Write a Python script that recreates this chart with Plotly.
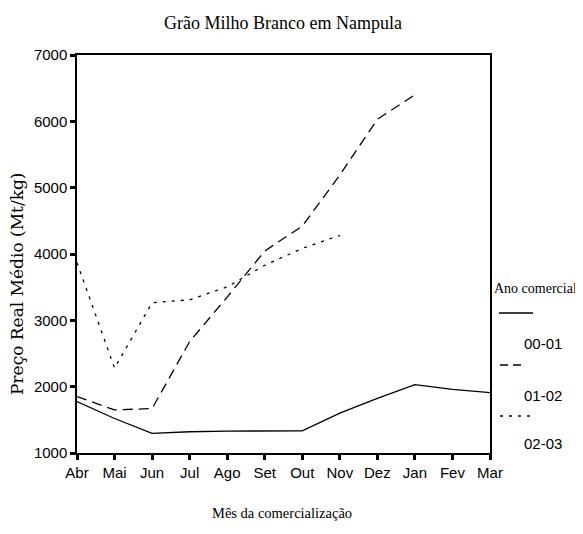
import plotly.graph_objects as go

months = ["Abr", "Mai", "Jun", "Jul", "Ago", "Set", "Out", "Nov", "Dez", "Jan", "Fev", "Mar"]
s_00_01 = [1775, 1520, 1295, 1320, 1330, 1335, 1335, 1600, 1825, 2030, 1960, 1910]
s_01_02 = [1850, 1650, 1670, 2680, 3350, 4045, 4420, 5190, 6030, 6400]
s_02_03 = [3870, 2280, 3265, 3310, 3505, 3830, 4085, 4280]
series_names = ["00-01", "01-02", "02-03"]
y_ticks = [1000, 2000, 3000, 4000, 5000, 6000, 7000]

# page body has an 8px margin: shrink figure and shift all coordinates
OFF = 8
W, H = 583 - OFF, 534 - OFF
L, R, T, B = 77 - OFF, 490 - OFF, 55 - OFF, 453 - OFF


def px(x):
    return (x - OFF - L) / (R - L)


def py(y):
    return (B - (y - OFF)) / (B - T)


fig = go.Figure()
styles = ["solid", "10px,6px", "3px,6px"]
for name, vals, dash in zip(series_names, [s_00_01, s_01_02, s_02_03], styles):
    fig.add_trace(go.Scatter(
        x=months[:len(vals)], y=vals, mode="lines", name=name,
        line=dict(color="black", width=1.3, dash=dash),
        showlegend=False, hoverinfo="skip"))

sans = "Liberation Sans Narrow, Liberation Sans"
serif = "Liberation Serif"

fig.update_layout(
    width=W, height=H,
    margin=dict(l=L, r=W - R, t=T, b=H - B, pad=0, autoexpand=False),
    paper_bgcolor="white", plot_bgcolor="white",
    title=dict(text="Grão Milho Branco em Nampula", x=px(283), xref="paper",
               xanchor="center", y=1 - (23 - OFF) / H, yref="container", yanchor="middle",
               font=dict(family=serif, size=18, color="black")),
    xaxis=dict(type="category", categoryorder="array", categoryarray=months,
               range=[0, 11], showgrid=False, zeroline=False,
               showline=True, linecolor="black", linewidth=1.5, mirror=True,
               ticks="outside", ticklen=5, tickwidth=3, tickcolor="black",
               tickfont=dict(family=sans, size=15, color="black")),
    yaxis=dict(range=[1000, 7000], tickvals=y_ticks, showgrid=False, zeroline=False,
               showline=True, linecolor="black", linewidth=1.5, mirror=True,
               ticks="outside", ticklen=5, tickwidth=3, tickcolor="black",
               tickfont=dict(family=sans, size=15, color="black")),
)

ann = [
    dict(text="Mês da comercialização", x=px(282), y=py(513), xanchor="center", yanchor="middle",
         font=dict(family=serif, size=14.5, color="black")),
    dict(text="Preço Real Médio (Mt/kg)", x=px(17), y=py(284), xanchor="center", yanchor="middle",
         textangle=-90, font=dict(family="DejaVu Serif", size=17, color="black")),
    dict(text="Ano comercial", x=px(492), y=py(288), xanchor="left", yanchor="middle",
         font=dict(family=serif, size=14, color="black")),
]
for name, yy in zip(series_names, [343, 395, 443]):
    ann.append(dict(text=name, x=px(543), y=py(yy), xanchor="center", yanchor="middle",
                    font=dict(family=sans, size=15, color="black")))
for a in ann:
    a.update(xref="paper", yref="paper", showarrow=False)
fig.update_layout(annotations=ann)

legend_lines = [(499, 533, 313, "solid"), (500, 522, 365, "8px,5px"), (500, 532, 416, "3px,6px")]
for x0, x1, yy, dash in legend_lines:
    fig.add_shape(type="line", xref="paper", yref="paper", x0=px(x0), x1=px(x1),
                  y0=py(yy), y1=py(yy), line=dict(color="black", width=1.3, dash=dash))

fig.write_html("out.html")
